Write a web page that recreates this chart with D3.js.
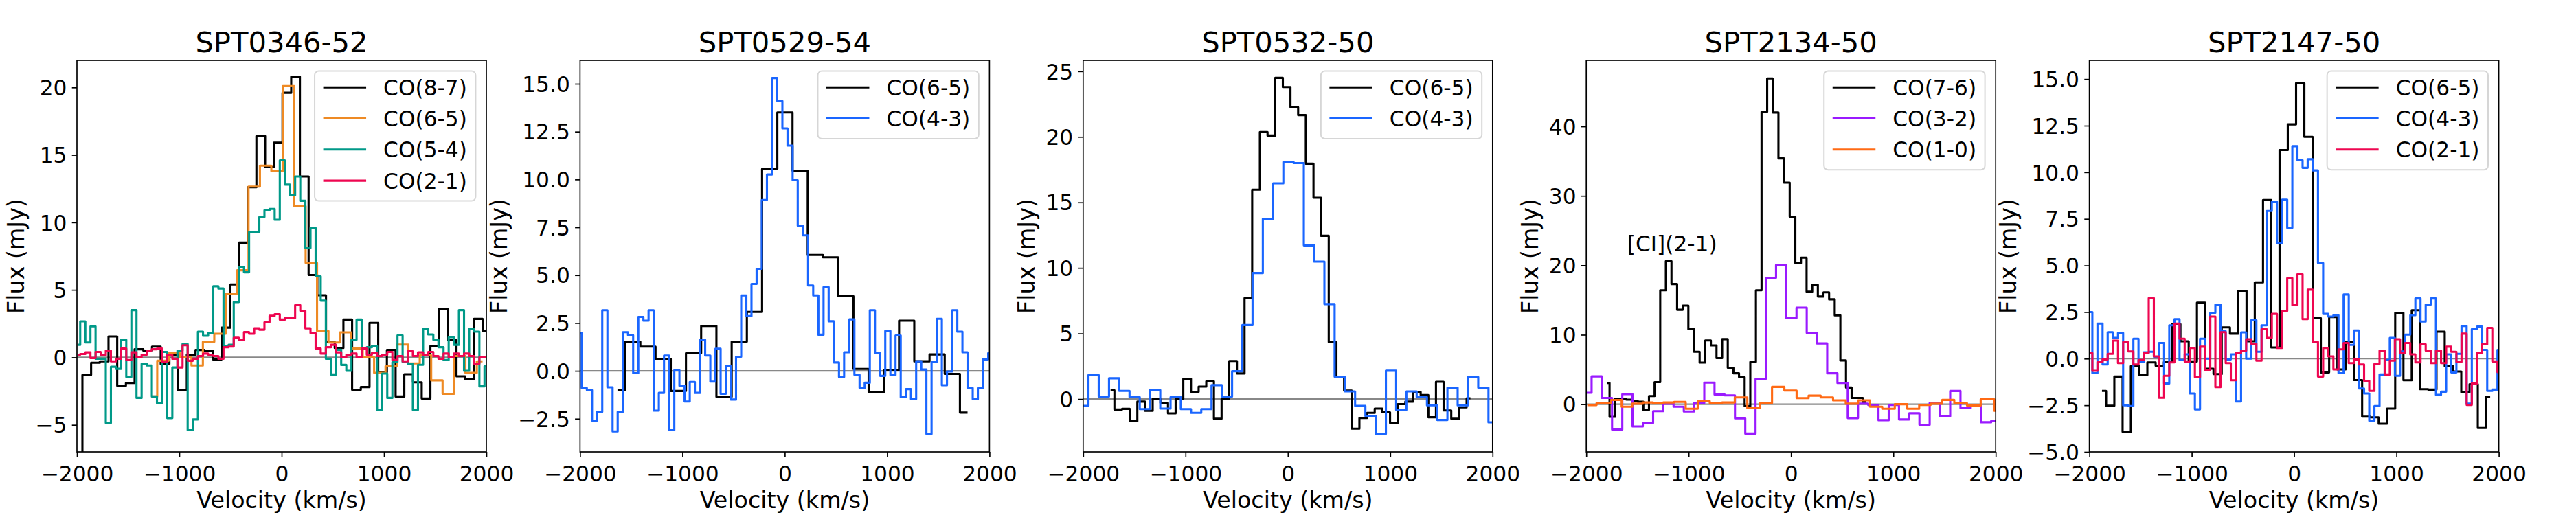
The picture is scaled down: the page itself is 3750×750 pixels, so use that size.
<!DOCTYPE html>
<html>
<head>
<meta charset="utf-8">
<script src="https://cdn.jsdelivr.net/npm/d3@7"></script>
<style>
body { margin: 0; background: #fff; }
text { font-family: "DejaVu Sans", sans-serif; }
</style>
</head>
<body>
<svg class="spectra_svg" width="3750" height="750"></svg>
<script>
// velocity axis shared by all panels
var xTicks = [-2000, -1000, 0, 1000, 2000];

// SPT0346-52
var v_0346_co87 = [-1989, -1904, -1819, -1734, -1649, -1564, -1479, -1394, -1309, -1224, -1139, -1054, -969, -884, -799, -714, -629, -544, -459, -374, -289, -204, -119, -34, 51, 136, 221, 306, 391, 476, 561, 646, 731, 816, 901, 986, 1071, 1156, 1241, 1326, 1411, 1496, 1581, 1666, 1751, 1836, 1921, 2006];
var f_0346_co87 = [-8, -1.3, -0.4, -0.3, 1.55, -2.1, -1.9, 0.6, 0.5, 0.8, -0.5, 0.2, -2.45, 0.2, 0.55, 0.5, -0.15, 2.2, 5.4, 8.5, 12.6, 16.4, 14.1, 15.9, 19.6, 20.8, 13.4, 6.1, 4.6, 1.15, 0.7, 2.8, -2.4, -2.2, 2.55, -1.1, 0.55, -2.9, -1.25, -1.85, -3.05, 0.85, 3.6, 1.3, -1.4, -1.6, 2.85, 1.95];
var v_0346_co65 = [-1271, -1160, -1048, -937, -825, -714, -602, -491, -379, -268, -156, -45, 67, 179, 290, 402, 513, 625, 736, 848, 959, 1071, 1182, 1294, 1405, 1517, 1628, 1740, 1851, 1963];
var f_0346_co65 = [-2.9, -0.25, 0.3, 0.0, -0.6, 1.15, 1.75, 4.7, 6.45, 12.65, 14.2, 13.8, 20.1, 11.2, 7.0, 1.95, 1.1, 1.85, 0.65, 0.0, -1.15, -0.65, 0.95, -0.45, 0.15, -1.7, -2.7, 0.1, -1.15, -0.3];
var v_0346_fine = [-1993, -1943, -1893, -1843, -1793, -1743, -1693, -1643, -1593, -1543, -1493, -1443, -1393, -1343, -1293, -1243, -1193, -1143, -1093, -1043, -993, -943, -893, -843, -793, -743, -693, -643, -593, -543, -493, -443, -393, -343, -293, -243, -193, -143, -93, -43, 7, 57, 107, 157, 207, 257, 307, 357, 407, 457, 507, 557, 607, 657, 707, 757, 807, 857, 907, 957, 1007, 1057, 1107, 1157, 1207, 1257, 1307, 1357, 1407, 1457, 1507, 1557, 1607, 1657, 1707, 1757, 1807, 1857, 1907, 1957, 2007];
var f_0346_co54 = [0.93, 2.67, 1.1, 2.3, -0.1, -0.1, -4.86, -0.7, -0.85, 1.3, -1.46, 3.5, -3.0, -0.47, -0.6, -2.9, -3.4, 0.4, -4.5, -0.75, 0.5, 1.0, -5.4, -4.6, 1.9, 1.6, 1.8, 5.27, 5.1, 0.84, 0.93, 4.1, 6.7, 6.3, 9.3, 9.3, 10.4, 10.9, 11.0, 10.2, 14.6, 12.8, 12.0, 13.4, 11.6, 8.1, 9.6, 6.0, 4.2, -0.1, -1.27, 0.56, -0.56, -1.0, 1.3, 2.8, 0.65, 0.75, 0.85, -3.9, -1.2, -3.0, -0.35, 1.63, -0.35, -0.5, -3.9, -0.55, 2.1, 1.7, 1.3, 0.75, -0.2, 1.5, 0.93, 3.5, -1.0, 2.1, 1.9, -2.15, -0.65];
var f_0346_co21 = [0.2, 0.25, 0.37, -0.05, 0.4, 0.15, 0.5, -0.3, -0.1, 0.65, -0.2, 0.37, 0.0, 0.2, 0.5, 0.6, 0.65, -0.33, 0.2, -0.1, -0.75, 0.9, -0.25, -0.1, 0.1, 0.28, 0.2, 0.1, -0.1, 0.75, 0.8, 1.45, 1.3, 1.87, 1.75, 2.15, 2.05, 2.6, 3.08, 3.2, 2.8, 2.9, 2.9, 3.87, 3.45, 2.15, 1.8, 0.65, 0.28, 0.75, 0.93, 0.37, 0.0, 0.2, 0.28, 0.0, 0.65, 0.2, 0.33, 0.1, 0.2, 0.4, -0.2, 0.1, -0.3, 0.45, 0.1, 0.37, 0.2, 0.4, 0.1, -0.1, 0.28, 0.0, 0.28, 0.1, 0.28, 0.1, -0.47, 0.0, 0.0];
var ydom_0346 = [-7, 22];
var yticks_0346 = [-5, 0, 5, 10, 15, 20];

// SPT0529-54
var v_0529_co65 = [-1634, -1485, -1337, -1188, -1039, -891, -742, -593, -444, -296, -147, 2, 150, 299, 448, 597, 745, 894, 1043, 1191, 1340, 1489, 1637, 1786];
var f_0529_co65 = [-1.0, 1.53, 1.27, 0.63, -1.05, 0.93, 2.35, -1.35, 1.53, 3.08, 10.55, 13.5, 10.46, 6.06, 5.93, 3.9, 0.1, -1.1, 0.04, 2.62, 0.5, 0.86, -0.16, -2.18];
var v_0529_co43 = [-2009, -1959, -1908, -1858, -1808, -1758, -1707, -1657, -1607, -1557, -1506, -1456, -1406, -1356, -1305, -1255, -1205, -1154, -1104, -1054, -1004, -953, -903, -853, -803, -752, -702, -652, -601, -551, -501, -451, -400, -350, -300, -250, -199, -149, -99, -48, 2, 52, 102, 152, 203, 253, 303, 354, 404, 454, 505, 555, 605, 655, 706, 756, 806, 856, 907, 957, 1007, 1057, 1108, 1158, 1208, 1259, 1309, 1359, 1409, 1460, 1510, 1560, 1610, 1661, 1711, 1761, 1811, 1862, 1912, 1962, 2013];
var f_0529_co43 = [1.98, -0.89, -1.0, -2.6, -2.14, 3.17, -0.86, -3.16, -2.14, 2.02, 1.87, -0.12, 2.82, 2.62, 3.17, -2.08, -1.15, 0.8, -3.1, 0.04, -0.78, -1.6, -0.58, -1.15, 1.63, 0.8, -0.56, 1.16, -1.2, 0.26, -1.5, 0.74, 3.94, 2.86, 4.54, 5.33, 8.93, 10.26, 15.3, 14.1, 12.67, 11.77, 9.96, 7.58, 7.08, 4.46, 3.94, 1.89, 4.38, 2.59, 0.44, -0.32, 0.97, 2.69, -0.2, -0.89, -0.62, 3.17, 0.93, -0.26, 2.09, -0.22, 1.85, -1.38, -0.95, -1.48, 0.5, 0.07, -3.3, 0.46, 2.72, -0.75, -0.03, 3.17, 2.05, 0.97, -0.89, -1.48, -0.89, 0.6, 0.93];
var ydom_0529 = [-4.23, 16.22];
var yticks_0529 = [-2.5, 0, 2.5, 5, 7.5, 10, 12.5, 15];

// SPT0532-50
var v_0532_co65 = [-1732, -1657, -1582, -1508, -1433, -1358, -1283, -1208, -1134, -1059, -984, -909, -834, -760, -685, -610, -535, -460, -386, -311, -236, -161, -86, -12, 63, 138, 213, 288, 362, 437, 512, 587, 662, 736, 811, 886, 961, 1036, 1110, 1185, 1260, 1335, 1410, 1484, 1559, 1634, 1709, 1784];
var f_0532_co65 = [0.67, -0.8, -0.75, -1.7, -0.2, -0.9, 0.0, -0.3, -1.1, 0.0, 1.55, 0.55, 0.95, 1.35, -1.5, 0.0, 2.9, 1.95, 7.7, 15.97, 20.37, 20.1, 24.5, 23.8, 22.26, 21.66, 17.95, 15.35, 12.45, 4.34, 1.68, 0.64, -2.26, -1.45, -1.06, -0.73, -1.02, -1.83, -0.39, -0.2, 0.54, 0.3, -1.39, 1.31, -0.87, -1.5, -0.64, 0.06];
var v_0532_co43 = [-1998, -1898, -1798, -1697, -1597, -1497, -1397, -1297, -1196, -1096, -996, -896, -796, -695, -595, -495, -395, -295, -194, -94, 6, 106, 206, 307, 407, 507, 607, 707, 808, 908, 1008, 1108, 1208, 1309, 1409, 1509, 1609, 1709, 1810, 1910, 2010];
var f_0532_co43 = [-0.52, 1.83, 0.19, 1.58, 0.62, 0.15, -0.77, 0.68, -0.73, 0.15, -0.77, -1.06, -0.77, 1.06, 0.19, 2.12, 5.64, 9.61, 13.75, 16.45, 18.09, 18.0, 11.72, 10.48, 7.24, 1.7, 0.58, -0.52, -1.29, -2.66, 2.16, -0.83, 0.58, 0.15, -0.48, -1.6, 0.87, -0.48, 1.68, 0.87, -1.78];
var ydom_0532 = [-4.03, 25.83];
var yticks_0532 = [0, 5, 10, 15, 20, 25];

// SPT2134-50
var v_2134_co76 = [-1800, -1745, -1690, -1635, -1580, -1525, -1470, -1415, -1360, -1305, -1250, -1195, -1140, -1085, -1030, -975, -920, -865, -810, -755, -700, -645, -590, -535, -480, -425, -370, -315, -260, -205, -150, -95, -40, 15, 70, 125, 180, 235, 290, 345, 400, 455, 510, 565, 620, 675, 730];
var f_2134_co76 = [3.06, -1.82, 0.8, 0.7, 0.65, 0.5, 0.35, -0.84, 1.17, 3.17, 16.4, 20.6, 17.3, 13.6, 14.2, 10.8, 7.55, 6.0, 9.19, 8.46, 6.63, 9.37, 5.25, 4.45, 3.9, -0.29, 6.1, 16.4, 42.1, 46.9, 42.0, 35.4, 31.9, 27.0, 20.3, 21.1, 16.2, 17.2, 15.5, 16.1, 15.1, 12.8, 6.3, 2.4, 0.9, 0.9, 0.3];
var v_2134_co32 = [-1998, -1898, -1798, -1698, -1598, -1498, -1397, -1297, -1197, -1097, -997, -897, -797, -697, -597, -497, -396, -296, -196, -96, 4, 104, 204, 304, 404, 504, 605, 705, 805, 905, 1005, 1105, 1205, 1305, 1405, 1505, 1606, 1706, 1806, 1906, 2006];
var f_2134_co32 = [1.64, 4.0, 0.9, -3.65, 1.45, -3.2, -2.7, -1.0, 0.07, -0.36, -1.05, 0.15, 3.1, 1.4, 1.28, -2.04, -4.23, 3.65, 18.2, 20.05, 12.4, 13.9, 10.28, 8.75, 4.45, 3.06, -2.0, 0.07, -0.11, -2.3, -0.1, -2.2, -1.31, -2.95, 0.18, -1.75, 1.9, -0.58, -0.11, -2.6, -2.4];
var v_2134_co10 = [-1990, -1809, -1705, -1603, -1499, -1397, -1299, -1198, -1087, -970, -852, -735, -611, -487, -366, -245, -125, -4, 114, 231, 349, 473, 597, 714, 832, 952, 1076, 1197, 1308, 1419, 1537, 1654, 1785, 1922, 2052];
var f_2134_co10 = [-0.12, 0.15, 0.6, -0.36, 0.07, 0.25, 0.15, 0.25, 0.33, -0.65, 0.44, 0.15, 0.25, 0.98, -0.58, 0.15, 2.5, 1.97, 0.87, 1.24, 0.98, 0.55, 0.07, 0.55, -0.36, -0.65, 0.0, -0.65, -0.1, 0.07, 0.62, 0.15, -0.18, 0.7, -0.95];
var ydom_2134 = [-6.86, 49.5];
var yticks_2134 = [0, 10, 20, 30, 40];

// SPT2147-50
var v_2147_co65 = [-1877, -1796, -1716, -1635, -1554, -1474, -1393, -1312, -1231, -1151, -1070, -989, -909, -828, -747, -667, -586, -505, -424, -344, -263, -182, -102, -21, 60, 141, 221, 302, 383, 463, 544, 625, 705, 786, 867, 948, 1028, 1109, 1190, 1270, 1351, 1432, 1512, 1593, 1674, 1755, 1835, 1916];
var f_2147_co65 = [-1.73, -2.52, -0.96, -3.92, -0.4, -0.88, -0.2, -0.38, -0.18, 1.85, 0.93, -0.15, 3.0, -0.54, -0.83, 1.68, 1.34, 3.64, 0.93, 4.09, 8.51, 0.6, 11.19, 12.57, 14.78, 11.9, 2.17, -0.74, 2.23, -0.58, 0.9, -1.15, -3.11, -3.15, -3.49, -2.68, 2.46, -1.16, 2.6, -1.64, -1.66, 1.45, -0.4, -0.69, -1.8, -1.37, -3.72, -2.04];
var v_2147_fine = [-1996, -1946, -1896, -1846, -1796, -1746, -1695, -1645, -1595, -1545, -1495, -1445, -1395, -1345, -1295, -1245, -1194, -1144, -1094, -1044, -994, -944, -894, -844, -794, -744, -693, -643, -593, -543, -493, -443, -393, -343, -293, -243, -192, -142, -92, -42, 8, 58, 108, 158, 208, 259, 309, 359, 409, 459, 509, 559, 609, 659, 709, 760, 810, 860, 910, 960, 1010, 1060, 1110, 1160, 1210, 1261, 1311, 1361, 1411, 1461, 1511, 1561, 1611, 1661, 1711, 1762, 1812, 1862, 1912, 1962, 2012];
var f_2147_co43 = [2.5, -0.78, 1.88, -0.31, 1.42, 1.11, 1.38, -2.5, -2.54, 1.07, -0.18, 0.34, 0.37, 0.1, 0.84, -1.33, 1.79, 2.12, -0.07, 0.23, -1.87, -2.72, 1.07, 0.0, 2.46, 2.9, 1.47, -0.04, 0.23, -2.3, 1.41, 0.0, 2.06, 0.37, 1.79, 7.92, 8.42, 6.18, 8.53, 7.02, 11.4, 10.65, 10.24, 10.7, 10.1, 5.13, 2.4, 2.26, 2.33, -0.78, 3.44, 0.74, 1.51, -1.6, -1.87, -3.33, -2.54, -0.85, -0.07, 1.11, -0.92, 0.39, 1.29, 2.33, 3.23, 1.99, 2.9, 3.23, -1.94, -1.77, 0.23, -0.74, 0.26, 1.75, -2.41, 1.58, 1.72, 0.47, -1.73, -1.66, 0.47];
var f_2147_co21 = [0.3, -0.65, -0.18, -0.04, 0.26, 0.97, -0.24, 0.9, 0.39, -0.31, -0.07, 0.3, 3.25, 0.12, -2.1, -0.92, -0.2, 1.88, 1.07, -0.15, 0.57, -0.99, 0.64, -0.61, 2.26, -1.53, 1.42, -0.24, -1.16, 0.3, 0.43, 1.04, 0.8, -0.11, 1.58, 1.11, 2.4, 0.57, 2.56, 4.32, 2.87, 4.53, 2.12, 3.7, 0.9, -0.96, 0.57, 0.12, -0.58, 0.5, 0.84, -0.24, -0.04, -0.31, -1.19, -1.73, -0.28, 0.43, -0.85, -0.11, 1.04, 0.32, 0.84, 0.23, -0.2, 0.77, 0.43, -0.24, 0.43, -0.24, 0.64, 0.37, -0.18, 1.34, -2.48, -1.33, 0.3, 0.77, 1.65, -0.15, -0.72];
var ydom_2147 = [-5, 16];
var yticks_2147 = [-5, -2.5, 0, 2.5, 5, 7.5, 10, 12.5, 15];

var panels = [
    { title: "SPT0346-52", ydom: ydom_0346, yticks: yticks_0346, yfmt: "d", series: [
        { label: "CO(8-7)", color: "#000000", v: v_0346_co87, f: f_0346_co87 },
        { label: "CO(6-5)", color: "#ee8a24", v: v_0346_co65, f: f_0346_co65 },
        { label: "CO(5-4)", color: "#009988", v: v_0346_fine, f: f_0346_co54 },
        { label: "CO(2-1)", color: "#ee0650", v: v_0346_fine, f: f_0346_co21 }] },
    { title: "SPT0529-54", ydom: ydom_0529, yticks: yticks_0529, yfmt: ".1f", series: [
        { label: "CO(6-5)", color: "#000000", v: v_0529_co65, f: f_0529_co65 },
        { label: "CO(4-3)", color: "#1a66ff", v: v_0529_co43, f: f_0529_co43 }] },
    { title: "SPT0532-50", ydom: ydom_0532, yticks: yticks_0532, yfmt: "d", series: [
        { label: "CO(6-5)", color: "#000000", v: v_0532_co65, f: f_0532_co65 },
        { label: "CO(4-3)", color: "#1a66ff", v: v_0532_co43, f: f_0532_co43 }] },
    { title: "SPT2134-50", ydom: ydom_2134, yticks: yticks_2134, yfmt: "d", note: { text: "[CI](2-1)", v: -1600, f: 22 }, series: [
        { label: "CO(7-6)", color: "#000000", v: v_2134_co76, f: f_2134_co76 },
        { label: "CO(3-2)", color: "#9a1aff", v: v_2134_co32, f: f_2134_co32 },
        { label: "CO(1-0)", color: "#ff6a14", v: v_2134_co10, f: f_2134_co10 }] },
    { title: "SPT2147-50", ydom: ydom_2147, yticks: yticks_2147, yfmt: ".1f", series: [
        { label: "CO(6-5)", color: "#000000", v: v_2147_co65, f: f_2147_co65 },
        { label: "CO(4-3)", color: "#1a66ff", v: v_2147_fine, f: f_2147_co43 },
        { label: "CO(2-1)", color: "#ee0650", v: v_2147_fine, f: f_2147_co21 }] }
];

var svg = d3.select(".spectra_svg"),
    top0 = 88,
    left0 = 112,
    gap = 732.4,
    pw = 596,
    ph = 570,
    fs = 31.25;

function draw_legend(grp, series) {
    var leg = grp.append("g");
    var box = leg.append("rect");
    var widths = [];
    series.forEach(function (s, k) {
        var cy = 23.6 + 45.3 * k;
        leg.append("line")
            .attr("x1", 12.5).attr("x2", 75)
            .attr("y1", cy).attr("y2", cy)
            .attr("stroke", s.color)
            .attr("stroke-width", 3.1);
        var t = leg.append("text")
            .text(s.label)
            .attr("x", 100)
            .attr("y", cy + 11.5)
            .style("font-size", fs + "px");
        widths.push(t.node().getComputedTextLength());
    });
    var bw = 100 + d3.max(widths) + 12.5,
        bh = 45.3 * series.length + 7.8;
    box.attr("width", bw).attr("height", bh)
        .attr("rx", 6).attr("ry", 6)
        .attr("fill", "#fff").attr("fill-opacity", 0.8)
        .attr("stroke", "#cccccc").attr("stroke-opacity", 0.8)
        .attr("stroke-width", 2);
    leg.attr("transform", "translate(" + (pw - 15.6 - bw) + "," + 15.6 + ")");
}

function draw_panel(p, i) {
    var x = d3.scaleLinear().domain([-2000, 2000]).range([0, pw]);
    var y = d3.scaleLinear().domain(p.ydom).range([ph, 0]);
    var grp = svg.append("g")
        .attr("transform", "translate(" + (left0 + gap * i) + "," + top0 + ")");

    grp.append("clipPath").attr("id", "clip" + i)
        .append("rect").attr("width", pw).attr("height", ph);
    var area = grp.append("g").attr("clip-path", "url(#clip" + i + ")");

    area.append("line") // zero level
        .attr("x1", 0).attr("x2", pw)
        .attr("y1", y(0)).attr("y2", y(0))
        .attr("stroke", "#888888")
        .attr("stroke-width", 2.1);

    var line = d3.line()
        .curve(d3.curveStep)
        .x(function (d) { return x(d[0]); })
        .y(function (d) { return y(d[1]); });

    p.series.forEach(function (s) {
        area.append("path")
            .datum(d3.zip(s.v, s.f))
            .attr("d", line)
            .attr("fill", "none")
            .attr("stroke", s.color)
            .attr("stroke-width", 3.1)
            .attr("stroke-linejoin", "round");
    });

    if (p.note) {
        grp.append("text")
            .text(p.note.text)
            .attr("x", x(p.note.v))
            .attr("y", y(p.note.f))
            .style("font-size", fs + "px");
    }

    var xa = grp.append("g")
        .attr("transform", "translate(0," + ph + ")")
        .call(d3.axisBottom(x).tickValues(xTicks).tickFormat(d3.format("d"))
            .tickSize(7.3).tickSizeOuter(0).tickPadding(13.5));
    var ya = grp.append("g")
        .call(d3.axisLeft(y).tickValues(p.yticks).tickFormat(d3.format(p.yfmt))
            .tickSize(7.3).tickSizeOuter(0).tickPadding(7.3));
    [xa, ya].forEach(function (a) {
        a.select(".domain").remove();
        a.attr("font-family", null).attr("font-size", null);
        a.selectAll("line").attr("stroke-width", 1.67);
        a.selectAll("text").style("font-size", fs + "px").attr("fill", "#000");
    });
    ya.selectAll("text").attr("dy", "0.36em");

    grp.append("rect") // spines
        .attr("width", pw).attr("height", ph)
        .attr("fill", "none")
        .attr("stroke", "#000")
        .attr("stroke-width", 1.67);

    var tw = 0;
    ya.selectAll("text").each(function () {
        tw = Math.max(tw, this.getComputedTextLength());
    });

    grp.append("text")
        .text("Flux (mJy)")
        .attr("text-anchor", "middle")
        .attr("transform", "translate(" + (-14.6 - tw - 16.2) + "," + (ph / 2) + ") rotate(-90)")
        .style("font-size", "33.3px");

    grp.append("text")
        .text("Velocity (km/s)")
        .attr("text-anchor", "middle")
        .attr("x", pw / 2)
        .attr("y", ph + 82)
        .style("font-size", "33.3px");

    grp.append("text")
        .text(p.title)
        .attr("text-anchor", "middle")
        .attr("x", pw / 2)
        .attr("y", -12.5)
        .style("font-size", "41.7px");

    draw_legend(grp, p.series);
}

panels.forEach(draw_panel);
</script>
</body>
</html>
